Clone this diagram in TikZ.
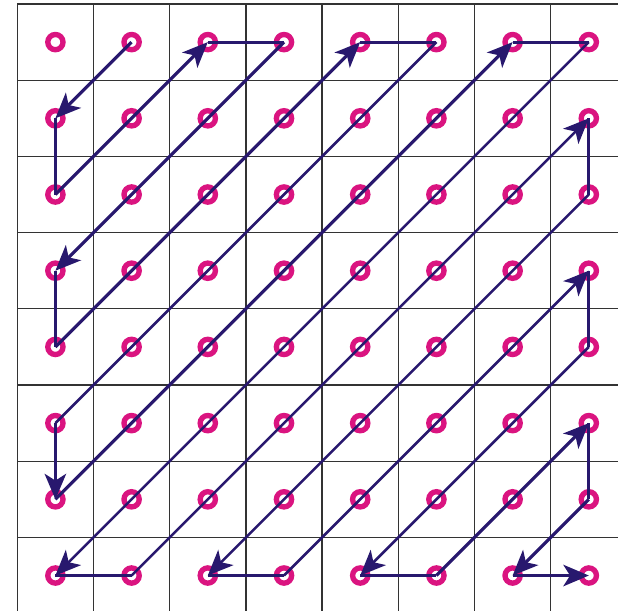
\documentclass[tikz,border=0pt]{standalone}
\usetikzlibrary{arrows.meta}

\definecolor{ringpink}{RGB}{218,20,128}
\definecolor{scannavy}{RGB}{40,24,110}

\tikzset{
    gridline/.style={draw=black!80, line width=0.5pt},
    coef/.style={circle, draw=ringpink, line width=2pt, minimum size=0.2cm, inner sep=0pt},
    scan/.style={scannavy, line width=0.95pt},
    hop/.style={scannavy, line width=1.2pt},
    tip/.style={-{Stealth[length=9.5pt,width=8pt,inset=2.5pt]}}
}

\begin{document}
\begin{tikzpicture}
    \useasboundingbox (-0.227,0.0525) rectangle (7.883,-7.953);
    \clip (-0.227,0.0525) rectangle (7.883,-7.953);

    % grid of 8x8 blocks
    \foreach \k in {0,...,8} {
        \draw[gridline] (\k,0) -- (\k,-8);
        \draw[gridline] (0,-\k) -- (8,-\k);
    }

    % coefficients
    \foreach \i in {0,...,7} {
        \foreach \j in {0,...,7} {
            \node[coef] (c\i\j) at (\i+0.5,-\j-0.5) {};
        }
    }

    % zigzag scan
    \draw[hop, tip] (c10.center) -- (c01.center);
    \draw[hop] (c01.center) -- (c02.center);
    \draw[hop, tip] (c02.center) -- (c20.center);
    \draw[hop] (c20.center) -- (c30.center);
    \draw[hop, tip] (c30.center) -- (c03.center);
    \draw[hop] (c03.center) -- (c04.center);
    \draw[hop, tip] (c04.center) -- (c40.center);
    \draw[hop] (c40.center) -- (c50.center);
    \draw[scan] (c50.center) -- (c05.center);
    \draw[hop, tip] (c05.center) -- (c06.center);
    \draw[hop, tip] (c06.center) -- (c60.center);
    \draw[hop] (c60.center) -- (c70.center);
    \draw[scan, tip] (c70.center) -- (c07.center);
    \draw[hop] (c07.center) -- (c17.center);
    \draw[scan, tip] (c17.center) -- (c71.center);
    \draw[hop] (c71.center) -- (c72.center);
    \draw[scan, tip] (c72.center) -- (c27.center);
    \draw[hop] (c27.center) -- (c37.center);
    \draw[scan, tip] (c37.center) -- (c73.center);
    \draw[hop] (c73.center) -- (c74.center);
    \draw[scan, tip] (c74.center) -- (c47.center);
    \draw[hop] (c47.center) -- (c57.center);
    \draw[hop, tip] (c57.center) -- (c75.center);
    \draw[hop] (c75.center) -- (c76.center);
    \draw[hop, tip] (c76.center) -- (c67.center);
    \draw[hop, tip] (c67.center) -- (c77.center);
\end{tikzpicture}
\end{document}
